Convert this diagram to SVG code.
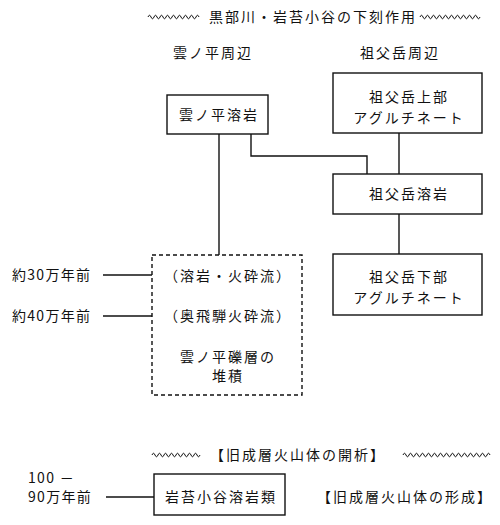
<svg xmlns="http://www.w3.org/2000/svg" width="500" height="525" viewBox="0 0 500 525">
<style>
text{font-family:"Noto Sans CJK JP","Noto Sans",sans-serif;font-size:14px;fill:#111;letter-spacing:2px}
.m{text-anchor:middle}
.a{letter-spacing:1.3px}
.box{fill:#fff;stroke:#111;stroke-width:1.4}
.dash{fill:none;stroke:#111;stroke-width:1.4;stroke-dasharray:4,3}
.ln{fill:none;stroke:#111;stroke-width:1.4}
.wave{fill:none;stroke:#111;stroke-width:1}
</style>
<rect width="500" height="525" fill="#fff"/>
<g id="title">
<path class="wave" d="M148 17 q1.5 -3.5 3 0 t3 0 t3 0 t3 0 t3 0 t3 0 t3 0 t3 0 t3 0 t3 0 t3 0 t3 0 t3 0 t3 0 t3 0 t3 0 t3 0"/>
<text class="m" x="313" y="22">黒部川・岩苔小谷の下刻作用</text>
<path class="wave" d="M420 17 q1.5 -3.5 3 0 t3 0 t3 0 t3 0 t3 0 t3 0 t3 0 t3 0 t3 0 t3 0 t3 0 t3 0 t3 0 t3 0 t3 0 t3 0 t3 0 t3 0 t3 0 t3 0"/>
</g>
<g id="headers">
<text class="m" x="213" y="58">雲ノ平周辺</text>
<text class="m" x="400" y="58">祖父岳周辺</text>
</g>
<g id="connectors">
<line class="ln" x1="219" y1="134" x2="219" y2="255"/>
<polyline class="ln" points="251,134 251,156 367,156 367,174"/>
<line class="ln" x1="399" y1="133" x2="399" y2="174"/>
<line class="ln" x1="399" y1="214" x2="399" y2="254"/>
<line class="ln" x1="103" y1="275" x2="152" y2="275"/>
<line class="ln" x1="103" y1="316" x2="152" y2="316"/>
<line class="ln" x1="106" y1="497" x2="154" y2="497"/>
</g>
<g id="n_kumonotaira_lava">
<rect class="box" x="167" y="95" width="101" height="39"/>
<text class="m" x="219" y="120">雲ノ平溶岩</text>
</g>
<g id="n_sofu_upper">
<rect class="box" x="333" y="73" width="149" height="60"/>
<text class="m" x="409" y="102">祖父岳上部</text>
<text class="m" x="409" y="123">アグルチネート</text>
</g>
<g id="n_sofu_lava">
<rect class="box" x="333" y="174" width="149" height="40"/>
<text class="m" x="409" y="199">祖父岳溶岩</text>
</g>
<g id="n_sofu_lower">
<rect class="box" x="333" y="254" width="149" height="61"/>
<text class="m" x="409" y="282">祖父岳下部</text>
<text class="m" x="409" y="303">アグルチネート</text>
</g>
<g id="n_deposit">
<rect class="dash" x="152" y="255" width="150" height="140"/>
<text class="m" x="228" y="281">（溶岩・火砕流）</text>
<text class="m" x="228" y="321">（奥飛騨火砕流）</text>
<text class="m" x="228" y="362">雲ノ平礫層の</text>
<text class="m" x="228" y="381">堆積</text>
</g>
<g id="ages">
<text class="a" x="12" y="280">約30万年前</text>
<text class="a" x="12" y="321">約40万年前</text>
<text class="a" x="28" y="483">100 －</text>
<text class="a" x="28" y="502">90万年前</text>
</g>
<g id="dissection">
<path class="wave" d="M152 455 q1.5 -3.5 3 0 t3 0 t3 0 t3 0 t3 0 t3 0 t3 0 t3 0 t3 0 t3 0 t3 0 t3 0 t3 0 t3 0 t3 0 t3 0"/>
<text class="m" x="298" y="460">【旧成層火山体の開析】</text>
<path class="wave" d="M403 455 q1.5 -3.5 3 0 t3 0 t3 0 t3 0 t3 0 t3 0 t3 0 t3 0 t3 0 t3 0 t3 0 t3 0 t3 0 t3 0 t3 0 t3 0 t3 0 t3 0 t3 0 t3 0 t3 0 t3 0 t3 0 t3 0 t3 0 t3 0 t3 0 t3 0 t3 0"/>
</g>
<g id="n_iwagoke_lava">
<rect class="box" x="154" y="474" width="131" height="41"/>
<text class="m" x="221" y="502">岩苔小谷溶岩類</text>
</g>
<g id="formation">
<text class="m" x="405" y="502">【旧成層火山体の形成】</text>
</g>
</svg>
